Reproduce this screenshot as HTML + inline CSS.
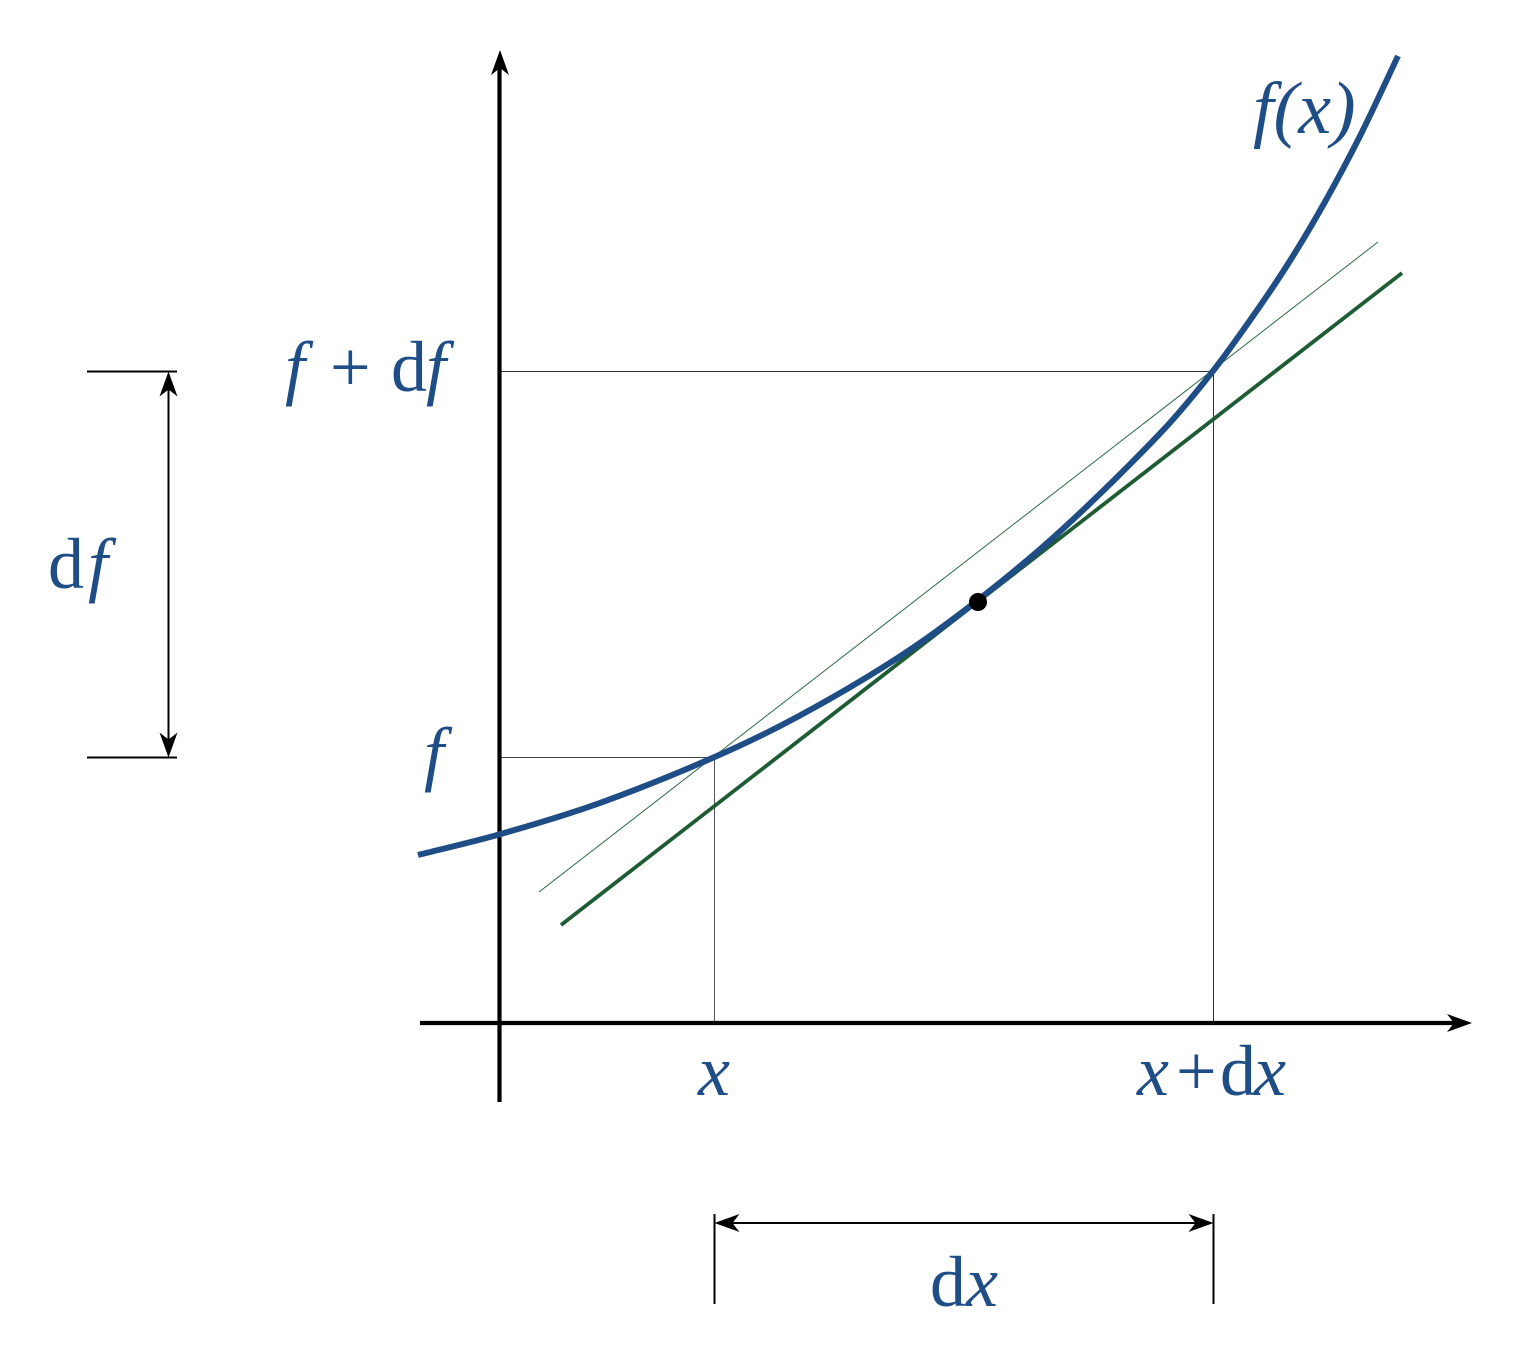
<!DOCTYPE html>
<html lang="en">
<head>
<meta charset="utf-8">
<title>Derivative diagram</title>
<style>
  html, body { margin: 0; padding: 0; background: #fff; }
  svg { display: block; }
  text { font-family: "Liberation Serif", "Times New Roman", serif; fill: #1f4e87; font-size: 72px; }
  .i { font-style: italic; }
</style>
</head>
<body>
<svg id="chart" xmlns="http://www.w3.org/2000/svg" width="1522" height="1357" viewBox="0 0 1522 1357">
  <rect x="0" y="0" width="1522" height="1357" fill="#ffffff"/>
  <g id="marks"></g>
  <text x="1253" y="133" class="i" style="font-size:74px">f(x)</text>
  <text x="698" y="1095" class="i">x</text>
  <text y="1095"><tspan class="i" x="1137">x</tspan><tspan x="1176">+</tspan><tspan x="1220">d</tspan><tspan class="i" x="1254">x</tspan></text>
  <text x="930" y="1306">d<tspan class="i">x</tspan></text>
  <text y="588"><tspan x="48">d</tspan><tspan class="i" x="88">f</tspan></text>
  <text x="424" y="777" class="i">f</text>
  <text y="391"><tspan class="i" x="285">f</tspan><tspan x="330">+</tspan><tspan x="391">d</tspan><tspan class="i" x="426">f</tspan></text>
</svg>
<script>
// Curve samples, in axis units (origin at the axes' crossing)
const curveX = [-0.81, 0, 1, 2.15, 3, 4, 4.79, 5.61, 6.61, 7.14, 7.61, 7.94, 8.27, 8.61, 8.99];
const curveY = [1.68, 1.885, 2.197, 2.657, 3.07, 3.66, 4.23, 4.915, 5.895, 6.52, 7.17, 7.67, 8.23, 8.87, 9.67];
// Tangent and secant end points, in axis units
const tangentX = [0.62, 9.03];
const tangentY = [0.98, 7.50];
const secantX = [0.40, 8.79];
const secantY = [1.31, 7.81];
// Marked values
const xMarks = [2.155, 7.145];
const yMarks = [2.655, 6.515];
const pointX = [4.79];
const pointY = [4.21];

const originX = 499, originY = 1023, unit = 100;
const sx = v => originX + v * unit;
const sy = v => originY - v * unit;
const NS = 'http://www.w3.org/2000/svg';
const marks = document.getElementById('marks');
function make(tag, attrs) {
  const e = document.createElementNS(NS, tag);
  for (const k in attrs) e.setAttribute(k, attrs[k]);
  marks.appendChild(e);
  return e;
}
function head(tx, ty, dx, dy) {
  // stealth arrow head with tip at (tx,ty), pointing along (dx,dy)
  const L = 25, W = 9, N = 18;
  const px = -dy, py = dx;
  const pts = [
    [tx, ty],
    [tx - dx * L + px * W, ty - dy * L + py * W],
    [tx - dx * N, ty - dy * N],
    [tx - dx * L - px * W, ty - dy * L - py * W]
  ];
  return pts.map(p => p.join(',')).join(' ');
}
function smooth(xs, ys) {
  // cubic Hermite through the samples, with finite-difference slopes
  const n = xs.length;
  const slope = i => {
    const a = Math.max(i - 1, 0), b = Math.min(i + 1, n - 1);
    return (ys[b] - ys[a]) / (xs[b] - xs[a]);
  };
  let d = 'M' + sx(xs[0]) + ' ' + sy(ys[0]);
  for (let i = 0; i < n - 1; i++) {
    const h = xs[i + 1] - xs[i];
    const c1x = xs[i] + h / 3, c1y = ys[i] + slope(i) * h / 3;
    const c2x = xs[i + 1] - h / 3, c2y = ys[i + 1] - slope(i + 1) * h / 3;
    d += ' C' + sx(c1x) + ' ' + sy(c1y) + ' ' + sx(c2x) + ' ' + sy(c2y) + ' ' + sx(xs[i + 1]) + ' ' + sy(ys[i + 1]);
  }
  return d;
}

// Guide lines
const guideX1 = make('line', {x1: sx(xMarks[0]), y1: sy(0), x2: sx(xMarks[0]), y2: sy(yMarks[0]), stroke: '#555', 'stroke-width': 1});


const guideX2 = make('line', {x1: sx(xMarks[1]), y1: sy(0), x2: sx(xMarks[1]), y2: sy(yMarks[1]), stroke: '#333', 'stroke-width': 1});


const guideY1 = make('line', {x1: sx(0), y1: sy(yMarks[0]), x2: sx(xMarks[0]), y2: sy(yMarks[0]), stroke: '#444', 'stroke-width': 1});


const guideY2 = make('line', {x1: sx(0), y1: sy(yMarks[1]), x2: sx(xMarks[1]), y2: sy(yMarks[1]), stroke: '#333', 'stroke-width': 1});



// Axes
const xAxis = make('line', {x1: 420, y1: originY, x2: 1455, y2: originY, stroke: '#000', 'stroke-width': 4.2});


const xArrow = make('polygon', {points: head(1472, originY, 1, 0), fill: '#000'});


const yAxis = make('line', {x1: originX + 0.5, y1: 1102, x2: originX + 0.5, y2: 66, stroke: '#000', 'stroke-width': 4.2});


const yArrow = make('polygon', {points: head(originX + 1, 50, 0, -1), fill: '#000'});



// Secant and tangent
const secant = make('line', {x1: sx(secantX[0]), y1: sy(secantY[0]), x2: sx(secantX[1]), y2: sy(secantY[1]), stroke: '#2b6a41', 'stroke-width': 1});


const tangent = make('line', {x1: sx(tangentX[0]), y1: sy(tangentY[0]), x2: sx(tangentX[1]), y2: sy(tangentY[1]), stroke: '#1d5c34', 'stroke-width': 3.8});



// Curve
const curve = make('path', {d: smooth(curveX, curveY), fill: 'none', stroke: '#1f4e87', 'stroke-width': 6});



// Point of tangency
const point = make('circle', {cx: sx(pointX[0]), cy: sy(pointY[0]), r: 9, fill: '#000'});



// df bracket
const dfTop = make('line', {x1: 87, y1: sy(yMarks[1]), x2: 177, y2: sy(yMarks[1]), stroke: '#000', 'stroke-width': 2});


const dfBottom = make('line', {x1: 87, y1: sy(yMarks[0]), x2: 177, y2: sy(yMarks[0]), stroke: '#000', 'stroke-width': 2});


const dfLine = make('line', {x1: 168.5, y1: sy(yMarks[1]) + 10, x2: 168.5, y2: sy(yMarks[0]) - 10, stroke: '#000', 'stroke-width': 2});


const dfHeadTop = make('polygon', {points: head(168.5, sy(yMarks[1]), 0, -1), fill: '#000'});


const dfHeadBottom = make('polygon', {points: head(168.5, sy(yMarks[0]), 0, 1), fill: '#000'});



// dx bracket
const dxLeft = make('line', {x1: sx(xMarks[0]), y1: 1214, x2: sx(xMarks[0]), y2: 1304, stroke: '#000', 'stroke-width': 2});


const dxRight = make('line', {x1: sx(xMarks[1]), y1: 1214, x2: sx(xMarks[1]), y2: 1304, stroke: '#000', 'stroke-width': 2});


const dxLine = make('line', {x1: sx(xMarks[0]) + 10, y1: 1223, x2: sx(xMarks[1]) - 10, y2: 1223, stroke: '#000', 'stroke-width': 2});


const dxHeadLeft = make('polygon', {points: head(sx(xMarks[0]), 1223, -1, 0), fill: '#000'});


const dxHeadRight = make('polygon', {points: head(sx(xMarks[1]), 1223, 1, 0), fill: '#000'});


</script>
</body>
</html>
